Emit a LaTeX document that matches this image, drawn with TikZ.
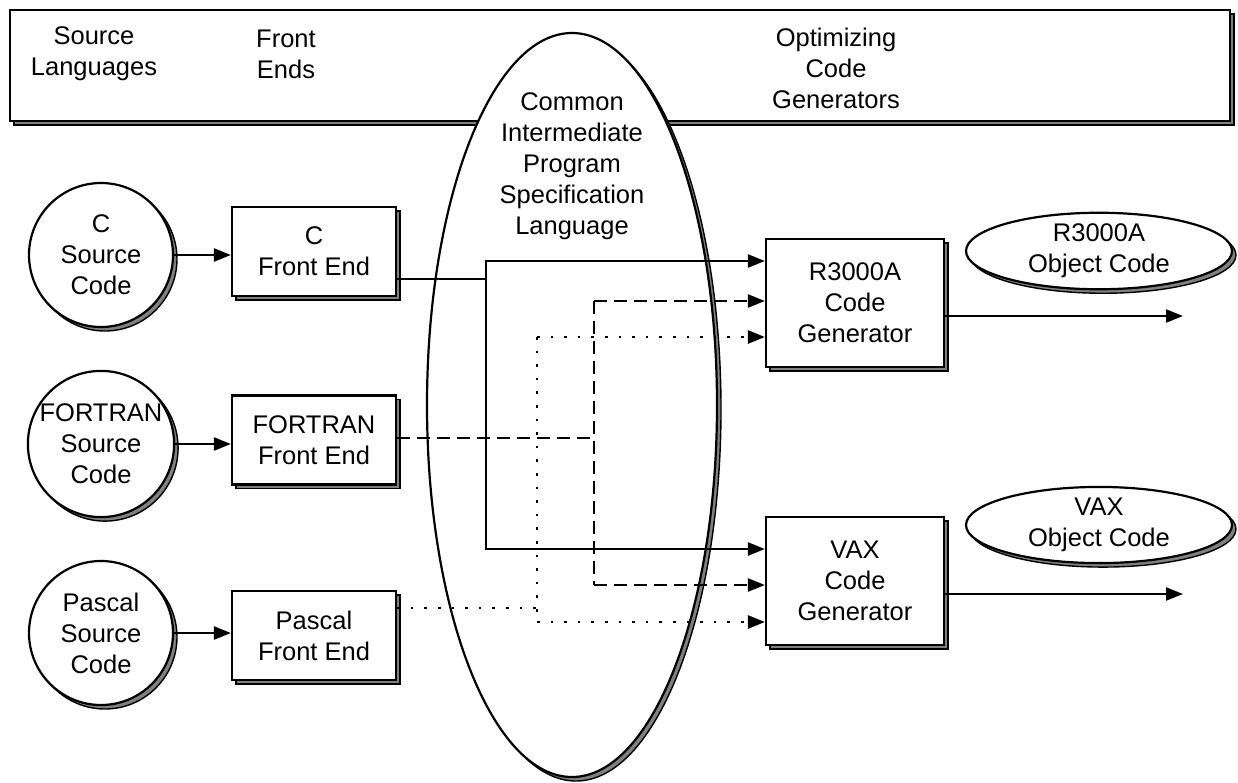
\documentclass[tikz,border=0pt]{standalone}
\usepackage{fontspec}
\setmainfont{Liberation Sans}
\usetikzlibrary{arrows.meta,shapes.geometric,shadows}
\begin{document}
\begin{tikzpicture}[x=1pt,y=-1pt,
  every node/.style={font=\fontsize{25.5pt}{31pt}\selectfont, align=center},
  shad/.style={copy shadow={shadow xshift=4pt, shadow yshift=-4pt, fill=gray, draw=black, line width=1.4pt}},
  rect/.style={rectangle, draw=black, fill=white, line width=2.2pt, inner sep=0pt, shad},
  circ/.style={circle, draw=black, fill=white, line width=2.2pt, inner sep=0pt, minimum size=144pt, shad},
  oval/.style={ellipse, draw=black, fill=white, line width=2.2pt, inner sep=0pt, shad},
  txt/.style={inner sep=0pt},
  ln/.style={line width=2.3pt},
  tip/.style={-{Triangle[length=17pt,width=13pt]}},
  arr/.style={ln, tip},
  dashln/.style={line width=2.3pt, dash pattern=on 13pt off 7pt},
  dasharr/.style={dashln, tip},
  dotln/.style={line width=2.6pt, dash pattern=on 2.6pt off 11pt},
  dotarr/.style={dotln, tip}
]
\useasboundingbox (0,0) rectangle (1238,782);

% banner
\node[rect, minimum width=1220pt, minimum height=111pt] (banner) at (620,65.5) {};
\node[txt] (srclang) at (94,54) {Source\\Languages};
\node[txt] (fends) at (286,54) {Front\\Ends};
\node[txt] (ocg) at (836,68) {Optimizing\\Code\\Generators};

% big ellipse
\node[oval, minimum width=290pt, minimum height=744pt] (cipsl) at (572,405) {};
\node[txt] (cipsltext) at (572,166) {Common\\Intermediate\\Program\\Specification\\Language};

% sources
\node[circ] (csrc) at (101,255) {C\\Source\\Code};
\node[circ] (fsrc) at (101,444) {FORTRAN\\Source\\Code};
\node[circ] (psrc) at (101,633) {Pascal\\Source\\Code};

% front ends
\node[rect, minimum width=164pt, minimum height=89pt] (cfe) at (314,251.5) {C\\Front End};
\node[rect, minimum width=164pt, minimum height=89pt] (ffe) at (314,440) {FORTRAN\\Front End};
\node[rect, minimum width=164pt, minimum height=89pt] (pfe) at (314,635.5) {Pascal\\Front End};

% code generators
\node[rect, minimum width=178pt, minimum height=128pt] (r3k) at (855,303) {R3000A\\Code\\Generator};
\node[rect, minimum width=178pt, minimum height=128pt] (vax) at (855,581) {VAX\\Code\\Generator};

% object code
\node[oval, minimum width=266pt, minimum height=66pt] (r3kobj) at (1099,251) {R3000A\\Object Code};
\node[oval, minimum width=266pt, minimum height=66pt] (vaxobj) at (1099,525) {VAX\\Object Code};

% source -> front end
\draw[arr] (csrc) -- (csrc -| cfe.west);
\draw[arr] (fsrc) -- (fsrc -| ffe.west);
\draw[arr] (psrc) -- (psrc -| pfe.west);

% solid (C)
\coordinate (cj) at (486,279);
\coordinate (bT) at (486,261);
\coordinate (bB) at (486,549);
\draw[ln] (cfe.east |- cj) -- (cj);
\draw[arr] (bB) -- (bT) -- (bT -| r3k.west);
\draw[arr] (bT) -- (bB) -- (bB -| vax.west);

% dashed (FORTRAN)
\coordinate (dj) at (594,438);
\coordinate (dT) at (594,301);
\coordinate (dB) at (594,585);
\draw[dashln] (ffe.east |- dj) -- (dj);
\draw[dashln] (dT) -- (dB);
\draw[dasharr] (dT) -- (dT -| r3k.west);
\draw[dasharr] (dB) -- (dB -| vax.west);

% dotted (Pascal)
\coordinate (tj) at (537,608);
\coordinate (tT) at (537,337);
\coordinate (tB) at (537,622);
\draw[dotln] (pfe.east |- tj) -- (tj);
\draw[dotln] (tT) -- (tB);
\draw[dotarr] (tT) -- (tT -| r3k.west);
\draw[dotarr] (tB) -- (tB -| vax.west);

% outputs
\coordinate (o1) at (1183,316);
\coordinate (o2) at (1183,594);
\draw[arr] (r3k.east |- o1) -- (o1);
\draw[arr] (vax.east |- o2) -- (o2);
\end{tikzpicture}
\end{document}
